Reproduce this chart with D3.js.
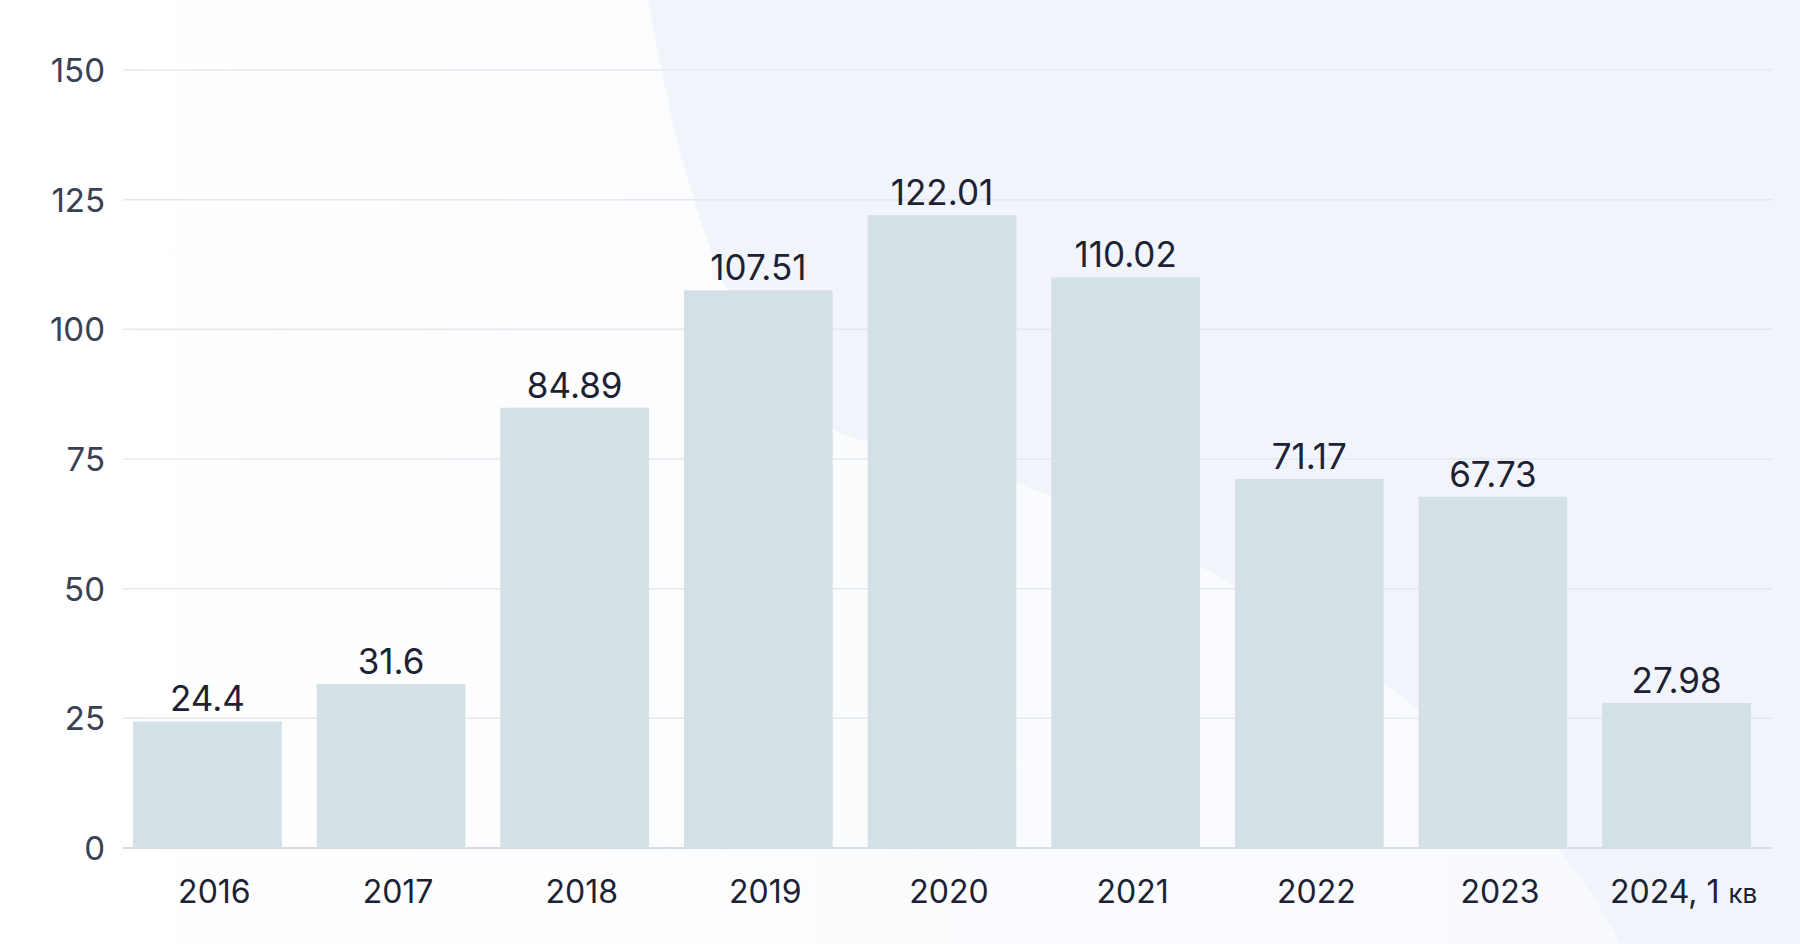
<!DOCTYPE html><html><head><meta charset="utf-8"><script src="https://cdn.jsdelivr.net/npm/d3@7"></script>
<style>body{margin:0;background:#fff}svg{display:block}</style></head><body><svg id="c" width="1800" height="944"></svg>
<script>
const categories=["2016","2017","2018","2019","2020","2021","2022","2023","2024, 1 кв"];
const values=[24.4,31.6,84.89,107.51,122.01,110.02,71.17,67.73,27.98];
const labels=["24.4","31.6","84.89","107.51","122.01","110.02","71.17","67.73","27.98"];
const yTicks=[0,25,50,75,100,125,150];
const svg=d3.select("#c");
const defs=svg.append("defs");
const g1=defs.append("linearGradient").attr("id","bg").attr("x1",0).attr("y1",0).attr("x2",1).attr("y2",0);
g1.append("stop").attr("offset",0).attr("stop-color","#ffffff");
g1.append("stop").attr("offset",1).attr("stop-color","#f7f9fd");
svg.append("rect").attr("width",1800).attr("height",944).attr("fill","url(#bg)");
svg.append("path").attr("d","M648,0 C700,300 780,420 860,440 C1100,480 1500,700 1620,944 L1800,944 L1800,0 Z").attr("fill","#f1f5fb");
const x=d3.scaleBand().domain(categories).range([122,1762]).paddingInner(0.19).paddingOuter(0.06);
const y=d3.scaleLinear().domain([0,150]).range([848,70]);
svg.append("g").selectAll("line").data(yTicks).join("line")
 .attr("x1",123).attr("x2",1772).attr("y1",d=>y(d)).attr("y2",d=>y(d))
 .attr("stroke",d=>d===0?"#d6dde6":"#e4e8ee").attr("stroke-width",d=>d===0?2:1.5);
svg.append("g").selectAll("text").data(yTicks).join("text")
 .attr("x",105).attr("y",d=>y(d)).attr("dy","0.36em").attr("text-anchor","end")
 .attr("font-family","Inter").attr("font-size",33).attr("fill","#3a4152").text(d=>d);
svg.append("g").selectAll("rect").data(values).join("rect")
 .attr("x",(d,i)=>x(categories[i])).attr("width",x.bandwidth())
 .attr("y",d=>y(d)).attr("height",d=>y(0)-y(d)).attr("fill","#d3e1e6");
svg.append("g").selectAll("text").data(values).join("text")
 .attr("x",(d,i)=>x(categories[i])+x.bandwidth()/2).attr("y",d=>y(d)-10).attr("text-anchor","middle")
 .attr("font-family","Inter").attr("font-size",35).attr("fill","#1c2233").text((d,i)=>labels[i]);
const xl=svg.append("g").selectAll("text").data(categories).join("text")
 .attr("x",d=>x(d)+x.bandwidth()/2+7).attr("y",903).attr("text-anchor","middle")
 .attr("font-family","Inter").attr("font-size",32).attr("fill","#1c2233");
xl.each(function(d){const t=d3.select(this);
 if(d.includes("кв")){t.append("tspan").text("2024, 1 ");t.append("tspan").attr("font-size",26).text("кв");}
 else t.text(d);});
</script></body></html>
